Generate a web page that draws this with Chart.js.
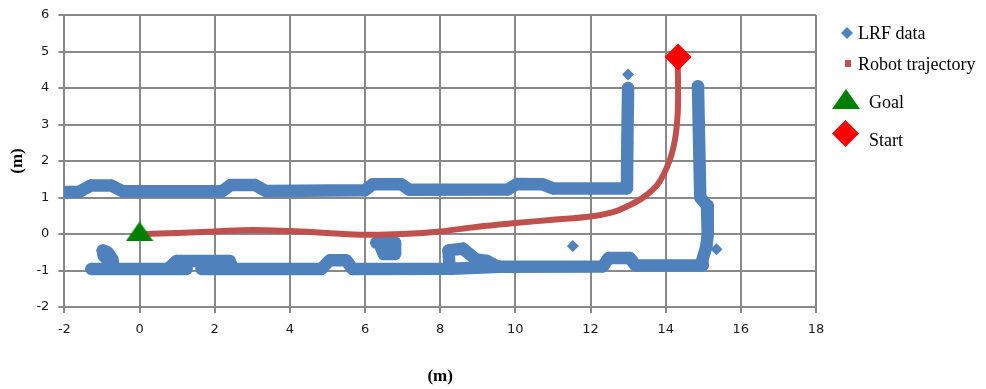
<!DOCTYPE html>
<html><head><meta charset="utf-8">
<script src="https://cdn.jsdelivr.net/npm/chart.js@4/dist/chart.umd.min.js"></script>
<style>html,body{margin:0;padding:0;background:#fff}#wrap{width:986px;height:389px}</style>
</head><body><div id="wrap"><canvas id="c" width="986" height="389"></canvas></div>
<script>
// ---- data (metres) ----
const xTicks = [-2, 0, 2, 4, 6, 8, 10, 12, 14, 16, 18];
const yTicks = [-2, -1, 0, 1, 2, 3, 4, 5, 6];
const seriesNames = ['LRF data', 'Robot trajectory', 'Goal', 'Start'];

const upperWall = [[-2.05,1.15],[-1.6,1.16],[-1.3,1.33],[-0.75,1.33],[-0.45,1.17],[2.2,1.17],[2.42,1.34],[3.08,1.34],[3.35,1.18],[6.0,1.2],[6.2,1.36],[6.97,1.36],[7.18,1.21],[9.8,1.22],[10.04,1.37],[10.73,1.36],[11.0,1.25],[12.97,1.25],[12.98,2.5],[13.0,4.0]];
const rightWall = [[14.86,4.05],[14.88,3.0],[14.9,2.0],[14.92,1.0],[15.1,0.78],[15.12,0.0],[15.08,-0.35],[14.98,-0.7],[14.98,-0.86]];
const lowerWallRight = [[14.98,-0.86],[13.2,-0.86],[13.05,-0.66],[12.48,-0.66],[12.33,-0.89],[9.6,-0.9],[8.3,-0.95],[5.67,-0.96],[5.5,-0.72],[5.06,-0.72],[4.84,-0.96],[1.65,-0.96]];
const lowerBump = [[2.47,-0.92],[2.4,-0.74],[0.98,-0.74],[0.8,-0.92]];
const lowerWallLeft = [[1.25,-0.96],[-1.28,-0.96]];
const leftStub = [[-0.7,-0.92],[-0.72,-0.7],[-0.85,-0.5],[-0.98,-0.45],[-0.95,-0.6],[-0.8,-0.75]];
const pillarBlob = [[6.3,-0.24],[6.8,-0.24],[6.8,-0.55],[6.5,-0.55],[6.42,-0.35],[6.62,-0.42]];
const hookFeature = [[8.25,-0.9],[8.22,-0.45],[8.6,-0.4],[8.78,-0.55],[8.95,-0.7],[9.25,-0.74],[9.5,-0.88]];
const strayPoints = [[13.0,4.37],[11.53,-0.33],[15.35,-0.42]];

const robotTrajectory = [[0.12,0.0],[1,0.03],[2,0.07],[3,0.11],[4,0.08],[5,0.03],[6,-0.02],[7,0.0],[8,0.07],[9,0.2],[10,0.3],[11,0.39],[12,0.48],[12.6,0.6],[13.0,0.77],[13.4,1.0],[13.8,1.38],[14.1,2.0],[14.25,2.6],[14.32,3.3],[14.33,4.0],[14.32,4.7]];
const goalPoint = [[0, 0.07]];
const startPoint = [[14.33, 4.85]];

// ---- styling ----
const BLUE = '#4F81BD', RED_LINE = '#C0504D', GREEN = '#008000', RED = '#FF0000', GRID = '#898989';
const pts = a => a.map(([x, y]) => ({x, y}));

function triangleCanvas(w, h, color) {
  const c = document.createElement('canvas');
  c.width = w; c.height = h;
  const g = c.getContext('2d');
  g.fillStyle = color;
  g.beginPath(); g.moveTo(w / 2, 0); g.lineTo(w, h); g.lineTo(0, h); g.closePath(); g.fill();
  return c;
}
const goalMarker = triangleCanvas(28, 20, GREEN);

const wallSets = [upperWall, rightWall, lowerWallRight, lowerBump, lowerWallLeft, leftStub, pillarBlob, hookFeature];
const datasets = wallSets.map((w, i) => ({
  label: seriesNames[0], data: pts(w), showLine: true,
  borderColor: BLUE, backgroundColor: BLUE, borderWidth: 12.5,
  borderJoinStyle: 'round', borderCapStyle: 'round',
  pointStyle: 'rectRot', pointRadius: 6.5, pointBorderWidth: 0, order: 3
}));
datasets.push({label: seriesNames[0], data: pts(strayPoints), showLine: false,
  backgroundColor: BLUE, borderColor: BLUE, pointStyle: 'rectRot', pointRadius: 6, pointBorderWidth: 0, order: 3});
datasets.push({label: seriesNames[1], data: pts(robotTrajectory), showLine: true,
  borderColor: RED_LINE, borderWidth: 6, tension: 0.35, pointRadius: 0, borderCapStyle: 'round', order: 2});
datasets.push({label: seriesNames[2], data: pts(goalPoint), showLine: false,
  pointStyle: goalMarker, pointRadius: 14, order: 1});
datasets.push({label: seriesNames[3], data: pts(startPoint), showLine: false,
  backgroundColor: RED, borderColor: RED, pointStyle: 'rectRot', pointRadius: 13.5, pointBorderWidth: 0, order: 0});

const sideLegend = {
  id: 'sideLegend',
  afterDraw(chart) {
    const ctx = chart.ctx;
    ctx.save();
    ctx.font = '18px "Liberation Serif", "Times New Roman", serif';
    ctx.textBaseline = 'middle';
    ctx.textAlign = 'left';
    // LRF data
    ctx.fillStyle = BLUE;
    ctx.beginPath(); ctx.moveTo(847, 27); ctx.lineTo(853, 33); ctx.lineTo(847, 39); ctx.lineTo(841, 33); ctx.closePath(); ctx.fill();
    ctx.fillStyle = '#000'; ctx.fillText(seriesNames[0], 858, 34);
    // Robot trajectory
    ctx.fillStyle = RED_LINE; ctx.fillRect(845, 60, 6, 7);
    ctx.fillStyle = '#000'; ctx.fillText(seriesNames[1], 858, 65);
    // Goal
    ctx.drawImage(goalMarker, 832, 89);
    ctx.fillStyle = '#000'; ctx.fillText(seriesNames[2], 869, 103);
    // Start
    ctx.fillStyle = RED;
    ctx.beginPath(); ctx.moveTo(845.5, 120); ctx.lineTo(859, 133.5); ctx.lineTo(845.5, 147); ctx.lineTo(832, 133.5); ctx.closePath(); ctx.fill();
    ctx.fillStyle = '#000'; ctx.fillText(seriesNames[3], 869, 141);
    ctx.restore();
  }
};

const tickFont = {family: '"DejaVu Sans", Verdana, sans-serif', size: 13};
const yTickFont = {family: '"DejaVu Sans", Verdana, sans-serif', size: 13, lineHeight: 0.6};
const titleFont = {family: '"Liberation Serif", "Times New Roman", serif', size: 17, weight: 'bold'};

new Chart(document.getElementById('c'), {
  type: 'scatter',
  data: {datasets},
  options: {
    responsive: false, devicePixelRatio: 1, animation: false,
    layout: {padding: {left: 0, top: 5, right: 170, bottom: 0}},
    plugins: {legend: {display: false}, tooltip: {enabled: false}},
    scales: {
      x: {
        type: 'linear', min: xTicks[0], max: xTicks[xTicks.length - 1],
        afterBuildTicks: s => { s.ticks = xTicks.map(v => ({value: v})); },
        ticks: {font: tickFont, color: '#1a1a1a', padding: 9},
        grid: {color: GRID, lineWidth: 2, tickLength: 6, tickColor: GRID},
        border: {color: GRID, width: 2},
        title: {display: true, text: '(m)', font: titleFont, color: '#000', padding: {top: 20, bottom: 2}}
      },
      y: {
        type: 'linear', min: yTicks[0], max: yTicks[yTicks.length - 1],
        afterBuildTicks: s => { s.ticks = yTicks.map(v => ({value: v})); },
        ticks: {font: yTickFont, color: '#1a1a1a', padding: 9},
        grid: {color: GRID, lineWidth: 2, tickLength: 6, tickColor: GRID},
        border: {color: GRID, width: 2},
        title: {display: true, text: '(m)', font: titleFont, color: '#000', padding: {top: 7, bottom: 0}}
      }
    }
  },
  plugins: [sideLegend]
});
</script></body></html>
